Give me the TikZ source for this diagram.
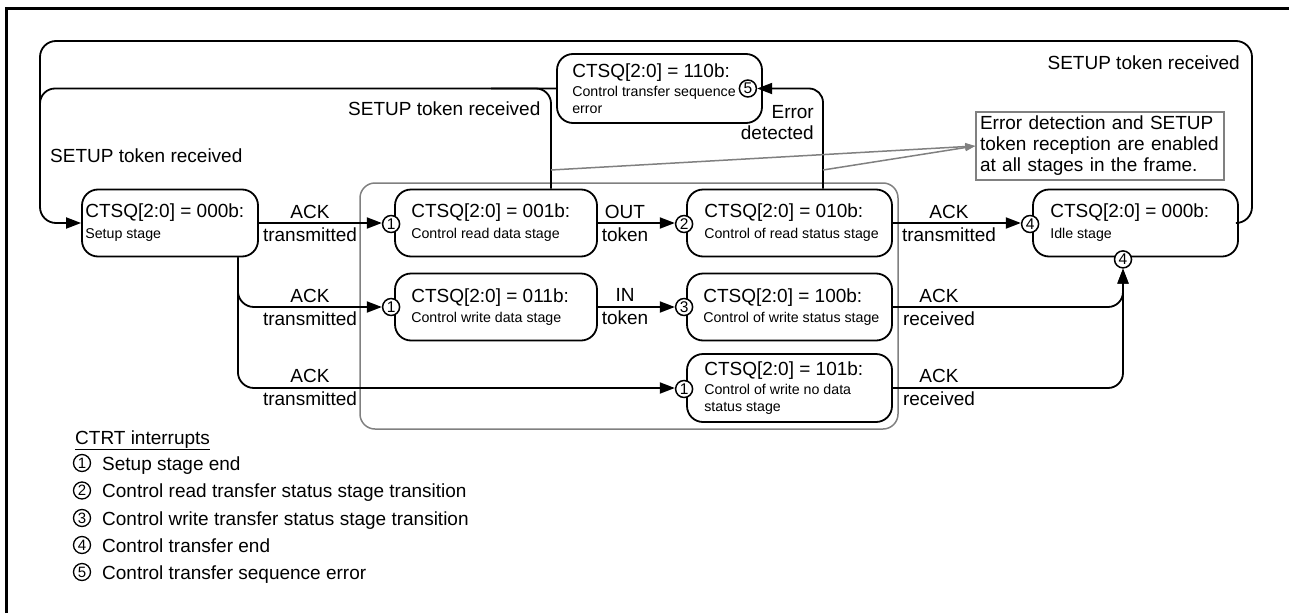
\documentclass[tikz,border=0pt]{standalone}
\usepackage{fontspec}
\setmainfont{Liberation Sans}
\usetikzlibrary{arrows.meta,calc}
\definecolor{frameGray}{RGB}{128,128,128}
\newcommand\fBig{\fontsize{19}{23}\selectfont}
\newcommand\fSml{\fontsize{14.2}{17}\selectfont}
\begin{document}
\begin{tikzpicture}[x=1pt,y=-1pt,
  box/.style={draw, line width=1.8pt, rounded corners=16pt, minimum height=67pt, inner sep=0pt},
  boxtxt/.style={anchor=west, align=left, inner sep=0pt, font=\fSml},
  num/.style={circle, draw, fill=white, line width=1.5pt, minimum size=17pt, inner sep=0pt, font=\fontsize{15.5}{15.5}\selectfont},
  lnum/.style={circle, draw, line width=1.3pt, minimum size=17pt, inner sep=0pt, font=\fontsize{15}{15}\selectfont},
  conn/.style={line width=1.8pt},
  arr/.style={conn, -{Triangle[length=15pt,width=11pt]}},
  grayline/.style={draw=frameGray, line width=1.5pt},
  grayarr/.style={frameGray, line width=1.5pt, -{Triangle[length=10pt,width=7pt]}},
  lbl/.style={align=center, font=\fBig, inner sep=0pt},
  plain/.style={font=\fBig, inner sep=0pt},
  note/.style={draw=frameGray, line width=1.5pt, text width=240pt, inner xsep=4pt, inner ysep=0pt, minimum height=68pt, align=left, font=\fontsize{19}{21}\selectfont}
]
\useasboundingbox (0,0) rectangle (1289,613);
% outer frame
\draw[line width=3pt] (6.5,613) -- (6.5,8.5) -- (1289,8.5);

% gray group frame
\draw[grayline, rounded corners=15pt] (360,183) rectangle (898,429);

% state boxes
\node[box, minimum width=176pt] (setup) at (170,223) {};
\node[box, minimum width=202pt] (b001) at (496,223) {};
\node[box, minimum width=205pt] (b010) at (789.5,223) {};
\node[box, minimum width=205pt] (idle) at (1135.5,223) {};
\node[box, minimum width=202pt] (b011) at (496,307) {};
\node[box, minimum width=205pt] (b100) at (789.5,307) {};
\node[box, minimum width=205pt, minimum height=68pt] (b101) at (789.5,388) {};
\node[box, minimum width=205pt, minimum height=69pt] (b110) at (659.5,88.5) {};

% box texts
\node[boxtxt] (t000) at ($(setup.west)+(4,0)$) {{\fBig CTSQ[2:0] = 000b:}\\[4pt]Setup stage};
\node[boxtxt] (t001) at ($(b001.west)+(17,0)$) {{\fBig CTSQ[2:0] = 001b:}\\[4pt]Control read data stage};
\node[boxtxt] (t010) at ($(b010.west)+(18,0)$) {{\fBig CTSQ[2:0] = 010b:}\\[4pt]Control of read status stage};
\node[boxtxt] (tidle) at ($(idle.west)+(18,0)$) {{\fBig CTSQ[2:0] = 000b:}\\[4pt]Idle stage};
\node[boxtxt] (t011) at ($(b011.west)+(17,0)$) {{\fBig CTSQ[2:0] = 011b:}\\[3pt]Control write data stage};
\node[boxtxt] (t100) at ($(b100.west)+(17,0)$) {{\fBig CTSQ[2:0] = 100b:}\\[3pt]Control of write status stage};
\node[boxtxt] (t101) at ($(b101.west)+(18,0)$) {{\fBig CTSQ[2:0] = 101b:}\\[2pt]Control of write no data\\status stage};
\node[boxtxt] (t110) at ($(b110.west)+(16,0)$) {{\fBig CTSQ[2:0] = 110b:}\\[2pt]Control transfer sequence\\error};

% helper coordinates
\coordinate (olR) at (1252,41);
\coordinate (olL) at (40,41);
\coordinate (tapA) at (551,170);
\coordinate (tapB) at (823,170);
\coordinate (sb) at ($(setup.south east)+(-21,0)$);

% interrupt marks
\node[num] (c1a) at ($(b001.west)+(-3,1)$) {1};
\node[num] (c2) at ($(b010.west)+(-2,1)$) {2};
\node[num] (c4a) at ($(idle.west)+(-2,1)$) {4};
\node[num] (c1b) at ($(b011.west)+(-3,0)$) {1};
\node[num] (c3) at ($(b100.west)+(-2,0)$) {3};
\node[num] (c1c) at ($(b101.west)+(-2,1)$) {1};
\node[num] (c4b) at ($(idle.south)+(-12.5,2)$) {4};
\node[num] (c5) at ($(b110.east)+(-15,0)$) {5};

% connectors
\draw[arr] (setup.east) -- (setup.east -| c1a.west);
\draw[arr] (b001.east) -- (b001.east -| c2.west);
\draw[arr] (b010.east) -- (b010.east -| c4a.west);
\draw[arr] (b011.east) -- (b011.east -| c3.west);
\draw[arr, rounded corners=16pt] (sb) -- (sb |- c1b) -- (c1b.west);
\draw[arr, rounded corners=16pt] (sb) -- (sb |- b101.east) -- (b101.east -| c1c.west);
\draw[arr, rounded corners=15pt] (b100.east) -- (b100.east -| c4b) -- (c4b.south);
\draw[arr, rounded corners=15pt] (b101.east) -- (b101.east -| c4b) -- (c4b.south);
\draw[arr, rounded corners=16pt] (idle.east) -- (idle.east -| olR) -- (olR) -- (olL) -- (olL |- setup.west) -- (setup.west);
\draw[conn, rounded corners=15pt] (b110.west) -- (b110.west -| olL) -- ($(olL |- b110.west)+(0,60)$);
\draw[conn, rounded corners=15pt] (tapA |- b001.north) -- (tapA |- b110.west) -- ($(tapA |- b110.west)+(-60,0)$);
\draw[arr, rounded corners=14pt] (tapB |- b010.north) -- (tapB |- c5) -- (c5.east);

% note
\node[note] (note) at (1100,146) {Error detection and SETUP\\token reception are enabled\\at all stages in the frame.};
\draw[grayarr] (tapA) -- (note.west);
\draw[grayarr] (tapB) -- (note.west);

% labels
\node[lbl] (l1) at (310,223) {ACK\\transmitted};
\node[lbl] (l2) at (310,307) {ACK\\transmitted};
\node[lbl] (l3) at (310,387) {ACK\\transmitted};
\node[lbl] (l4) at (625,223) {OUT\\token};
\node[lbl] (l5) at (625,307) {IN\\token};
\node[lbl] (l6) at (949,223) {ACK\\transmitted};
\node[lbl] (l7) at (939,307) {ACK\\received};
\node[lbl] (l8) at (939,387) {ACK\\received};
\node[lbl, align=right, anchor=east, font=\fontsize{19}{21}\selectfont] (l9) at (814,122.5) {Error\\detected};
\node[plain, anchor=base west] (s1) at (50,162) {SETUP token received};
\node[plain, anchor=base west] (s2) at (348,115) {SETUP token received};
\node[plain, anchor=base east] (s3) at (1240,69) {SETUP token received};

% legend
\node[plain, anchor=base west] (lgT) at (75,444) {\underline{CTRT interrupts}};
\node[lnum] (n1) at (82,463) {1};
\node[plain, anchor=base west] (n1t) at (102,470) {Setup stage end};
\node[lnum] (n2) at (82,490.5) {2};
\node[plain, anchor=base west] (n2t) at (102,497.5) {Control read transfer status stage transition};
\node[lnum] (n3) at (82,518) {3};
\node[plain, anchor=base west] (n3t) at (102,525) {Control write transfer status stage transition};
\node[lnum] (n4) at (82,545) {4};
\node[plain, anchor=base west] (n4t) at (102,552) {Control transfer end};
\node[lnum] (n5) at (82,572) {5};
\node[plain, anchor=base west] (n5t) at (102,579) {Control transfer sequence error};
\end{tikzpicture}
\end{document}
